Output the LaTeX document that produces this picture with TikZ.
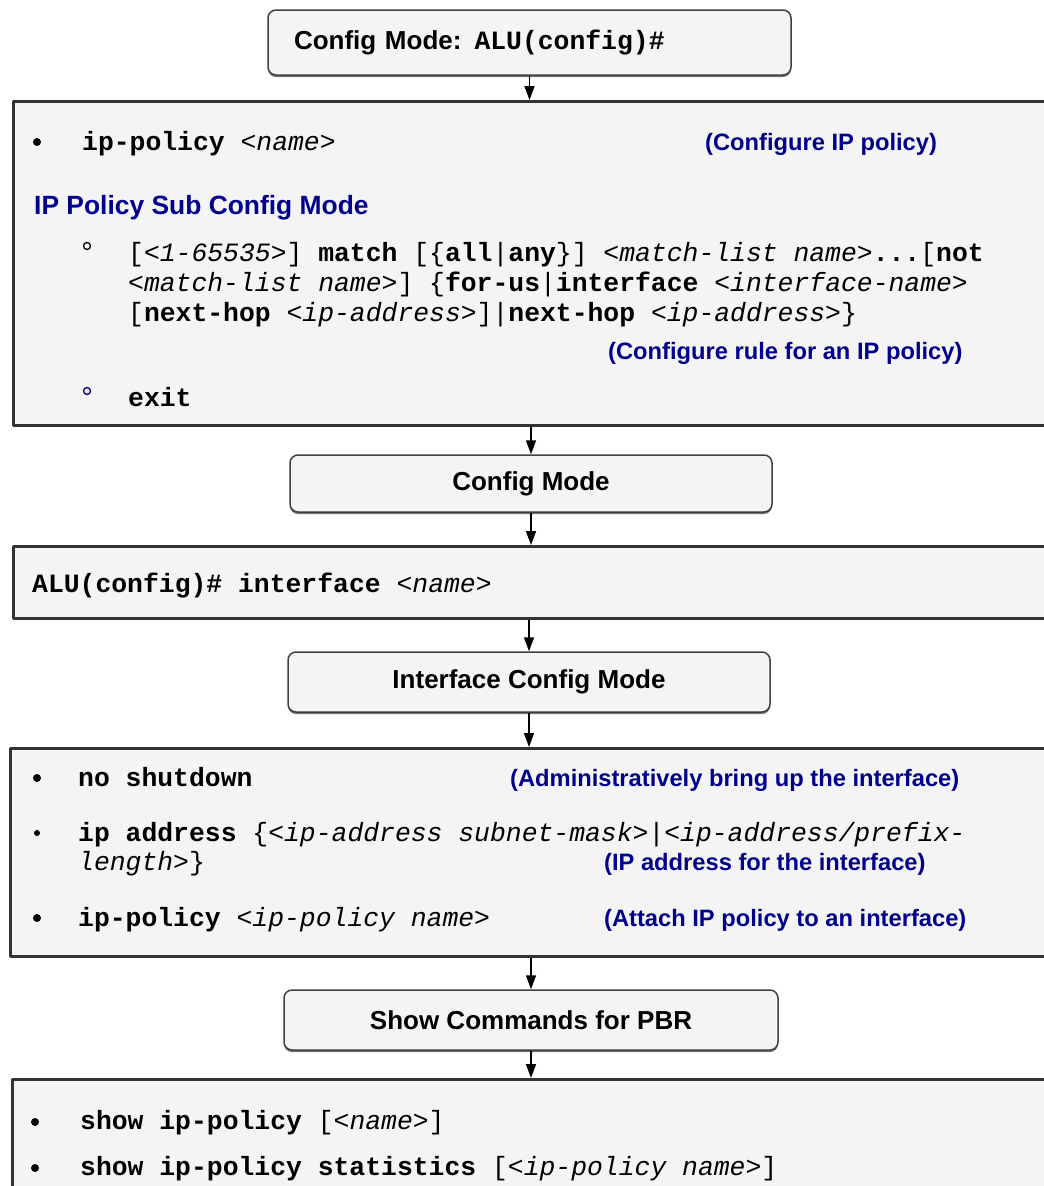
\documentclass[tikz,border=0pt]{standalone}
\usepackage{fontspec}
\setmainfont{Liberation Sans}
\setsansfont{Liberation Sans}
\setmonofont{Liberation Mono}
\usetikzlibrary{arrows.meta,shadows}

\definecolor{boxgray}{RGB}{244,244,244}
\definecolor{noteblue}{RGB}{0,0,140}

\newcommand{\kw}[1]{\textbf{#1}}
\newcommand{\pv}[1]{\textit{#1}}

\tikzset{
  modebox/.style={draw=black!75, line width=1.5pt, fill=boxgray, rounded corners=8pt,
    minimum height=60pt, inner sep=0pt, font=\sffamily\bfseries\fontsize{26}{30}\selectfont,
    drop shadow={shadow xshift=0pt, shadow yshift=-2pt, fill=black!55, opacity=1}},
  panel/.style={draw=black!80, line width=2.5pt, fill=boxgray, anchor=north west, inner sep=0pt},
  cli/.style={anchor=base west, inner sep=0pt, font=\ttfamily\fontsize{26.4}{30}\selectfont},
  note/.style={anchor=base west, inner sep=0pt, text=noteblue, font=\sffamily\bfseries\fontsize{23.7}{28}\selectfont},
  bullet/.style={circle, fill=black, minimum size=8pt, inner sep=0pt},
  ring/.style={circle, draw=black, line width=1.3pt, minimum size=7pt, inner sep=0pt},
  flow/.style={line width=1.5pt, ->},
}

\begin{document}
\begin{tikzpicture}[x=1pt, y=-1pt, >={Stealth[inset=0pt,length=14pt,width=10pt]}, line join=round]
	\useasboundingbox (0,0) rectangle (1044,1186);

	% modes and command panels
	\node[modebox, minimum width=523pt, minimum height=65pt, text width=471pt, inner xsep=26pt, align=left] (cfgtop) at (529.5,42.5)
		{Config Mode: {\ttfamily\fontsize{26.4}{30}\selectfont ALU(config)\#}};
	\node[panel, minimum width=1050pt, minimum height=324pt] (ippol) at (12,100) {};
	\node[modebox, minimum width=482pt, minimum height=57pt] (cfg) at (531,483.5) {Config Mode};
	\node[panel, minimum width=1050pt, minimum height=72pt] (ifcmd) at (12,545) {};
	\node[modebox, minimum width=482pt] (ifcfg) at (529,682) {Interface Config Mode};
	\node[panel, minimum width=1050pt, minimum height=208pt] (ifset) at (9,747) {};
	\node[modebox, minimum width=494pt] (showm) at (531,1020) {Show Commands for PBR};
	\node[panel, minimum width=1050pt, minimum height=180pt] (showcmd) at (11,1078) {};

	\draw[flow] (cfgtop) -- (cfgtop.south |- ippol.north);
	\draw[flow] (ippol.south -| cfg.north) -- (cfg);
	\draw[flow] (cfg) -- (cfg.south |- ifcmd.north);
	\draw[flow] (ifcmd.south -| ifcfg.north) -- (ifcfg);
	\draw[flow] (ifcfg) -- (ifcfg.south |- ifset.north);
	\draw[flow] (ifset.south -| showm.north) -- (showm);
	\draw[flow] (showm) -- (showm.south |- showcmd.north);

	% ip-policy
	\node[bullet] (b1) at (37,142) {};
	\node[cli] (polcmd) at (82,150) {\kw{ip-policy} \pv{<name>}};
	\node[note] (polnote) at (705,150) {(Configure IP policy)};
	\node[note, font=\sffamily\bfseries\fontsize{26.4}{30}\selectfont] (subhd) at (34,214) {IP Policy Sub Config Mode};
	\node[ring] (r1) at (87,246) {};
	\node[cli] (rule1) at (128,261) {[\pv{<1-65535>}] \kw{match} [\{\kw{all}|\kw{any}\}] \pv{<match-list name>}\kw{...}[\kw{not}};
	\node[cli] (rule2) at (128,291) {\pv{<match-list name>}] \{\kw{for-us}|\kw{interface} \pv{<interface-name>}};
	\node[cli] (rule3) at (128,321) {[\kw{next-hop} \pv{<ip-address>}]|\kw{next-hop} \pv{<ip-address>}\}};
	\node[note] (rulenote) at (608,359) {(Configure rule for an IP policy)};
	\node[ring, draw=noteblue] (r2) at (87,391) {};
	\node[cli] (exitcmd) at (128,406) {\kw{exit}};

	% interface
	\node[cli] (ifline) at (32,592) {\kw{ALU(config)\# interface} \pv{<name>}};

	% interface settings
	\node[bullet] (b2) at (37,778) {};
	\node[cli] (noshut) at (78,786) {\kw{no shutdown}};
	\node[note] (noshutnote) at (510,786) {(Administratively bring up the interface)};
	\node[bullet, minimum size=6pt] (b3) at (37,833) {};
	\node[cli] (ipaddr) at (78,841) {\kw{ip address} \{\pv{<ip-address subnet-mask>}|\pv{<ip-address/prefix-}};
	\node[cli] (ipaddrb) at (78,870) {\pv{length>}\}};
	\node[note] (ipaddrnote) at (604,870) {(IP address for the interface)};
	\node[bullet] (b4) at (37,918) {};
	\node[cli] (attach) at (78,926) {\kw{ip-policy} \pv{<ip-policy name>}};
	\node[note] (attachnote) at (604,926) {(Attach IP policy to an interface)};

	% show commands
	\node[bullet] (b5) at (35,1122) {};
	\node[cli] (showpol) at (80,1129) {\kw{show ip-policy} [\pv{<name>}]};
	\node[bullet] (b6) at (35,1168) {};
	\node[cli] (showstat) at (80,1175) {\kw{show ip-policy statistics} [\pv{<ip-policy name>}]};
\end{tikzpicture}
\end{document}
